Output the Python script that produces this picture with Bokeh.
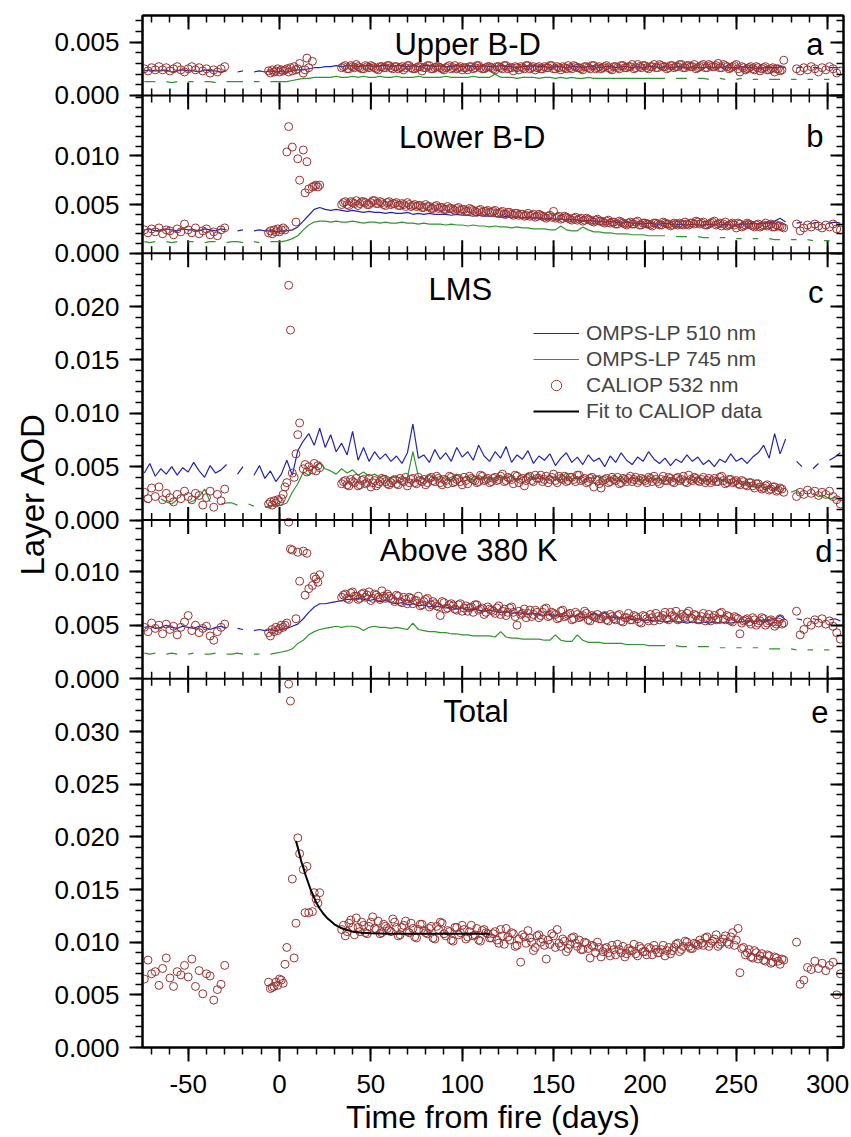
import numpy as np
from bokeh.plotting import figure
from bokeh.models import (Range1d, LinearAxis, FixedTicker, CustomJSTickFormatter,
                          Label, Legend, LegendItem, Span, Title)
from bokeh.embed import file_html
from bokeh.resources import INLINE

nan = float("nan")

# ---------------- data (layer AOD values in units of 1e-3) ----------------
omps_days = list(range(-74, 308, 3))
cal_days = (list(range(-74, -29, 2)) + list(range(-6, 3)) +
            [3, 4, 5, 6, 7, 8, 9, 10, 11, 13, 14, 15, 16, 18, 19, 20, 21, 22] +
            list(range(34, 277, 2)) + list(range(283, 308, 2)))
cal_days2 = list(range(35, 276, 2))

# ---- panel a : Upper B-D ----
a510 = [2.3, 2.4, 2.3, 2.3, 2.4, 2.2, 2.3, 2.4, 2.3, 2.3, 2.2, 2.4, 2.3, 2.3, 2.2, 2.3,
        nan, 2.2, 2.3, nan, 2.2, 2.3, 2.2, 2.3, 2.2,
        2.3, 2.2, 2.3, 2.4, 2.4, 2.5, 2.6, 2.6, 2.7,
        2.7, 2.8, 2.7, 2.8, 2.8, 2.7, 2.8, 2.8, 2.7, 2.8,
        2.8, 2.7, 2.8, 2.8, 2.7, 2.8, 2.7, 2.8, 2.8, 2.7,
        2.8, 2.7, 2.7, 2.8, 2.7, 2.8, 2.7, 2.7, 2.8, 2.7,
        2.7, 2.8, 2.7, 2.7, 2.6, 2.7, 2.7, 2.8, 2.7, 2.7,
        2.6, 2.7, 2.7, 2.6, 2.7, 2.7, 2.6, 2.7, 2.7, 2.6,
        2.7, 2.7, 2.6, 2.7, 2.7, 2.6, 2.7, 2.6, 2.7, 2.7,
        2.6, 2.7, 2.6, 2.7, 2.7, 2.6, 2.7, 2.6, 2.6, 2.7,
        2.6, 2.6, 2.7, 2.6, 2.6, 2.7, 2.6, 2.6, 2.5, 2.6,
        2.6, 2.6, 2.7, 2.6, nan, 2.6, 2.7, nan, 2.6, 2.6,
        nan, 2.6, 2.6, 2.6]
a745 = [1.3, 1.3, 1.3, nan, 1.3, 1.2, 1.3, nan, 1.3, 1.3, nan, 1.3, 1.3, 1.2, nan, 1.3,
        1.3, 1.3, 1.3, nan, 1.3, 1.3, nan, 1.3, 1.3,
        1.3, 1.3, 1.4, 1.5, 1.6, 1.6, 1.7, 1.7, 1.7,
        1.7, 1.8, 1.7, 1.7, 1.8, 1.7, 1.8, 1.7, 1.7, 1.8,
        1.7, 1.7, 1.8, 1.7, 1.7, 1.7, 1.8, 1.7, 1.7, 1.7,
        1.7, 1.8, 1.7, 1.7, 1.7, 1.7, 1.8, 1.7, 1.7, 1.7,
        2.0, 1.7, 1.7, 1.7, 1.6, 1.7, 1.7, 1.7, 1.6, 1.7,
        1.7, 1.6, 1.7, 1.6, 1.7, 1.6, 1.6, 1.7, 1.6, 1.6,
        1.6, 1.6, 1.6, 1.6, 1.6, 1.6, 1.6, 1.6, 1.6, 1.6,
        1.6, 1.6, nan, 1.6, 1.6, 1.6, nan, 1.6, 1.6, 1.5,
        nan, 1.6, 1.5, nan, 1.5, 1.6, nan, 1.5, 1.5, nan,
        1.5, 1.5, 1.5, nan, 1.5, 1.5, nan, 1.5, 1.5, nan,
        1.5, 1.5, nan, 1.5]
cal_a = [2.5, 2.3, 2.6, 2.4, 2.7, 2.4, 2.6, 2.3, 2.5, 2.7, 2.4, 2.2, 2.5, 2.7, 2.4, 2.6,
         2.3, 2.5, 2.1, 2.4, 2.2, 2.5, 2.7,
         2.3, 2.1, 2.4, 2.2, 2.3, 2.5, 2.2, 2.4, 2.3,
         2.4, 2.5, 2.2, 2.6, 2.3, 2.7, 2.4, 2.5, 3.0, 2.1, 2.4, 3.5, 2.6, 3.2, nan, nan, nan, nan,
         2.6, 2.8, 2.5, 2.7, 2.9, 2.6, 2.5, 2.7, 2.8, 2.6, 2.4, 2.7, 2.6, 2.8,
         2.5, 2.7, 2.6, 2.4, 2.8, 2.6, 2.5, 2.7, 2.3, 2.6, 2.8, 2.5, 2.7, 2.6, 2.4, 2.7,
         2.5, 2.8, 2.6, 2.4, 2.6, 2.7, 2.5, 2.8, 2.6, 2.5, 2.7,
         2.6, 2.4, 2.7, 2.5, 2.8, 2.6, 2.3, 2.6, 2.7, 2.5, 2.8, 2.6, 2.4, 2.7, 2.5,
         2.6, 2.8, 2.5, 2.7, 2.4, 2.6, 2.8, 2.5, 2.7, 2.6, 2.4, 2.7, 2.5, 2.8, 2.6,
         2.5, 2.7, 2.6, 2.4, 2.7, 2.5, 2.8, 2.6, 2.7, 2.5, 2.9, 2.6, 2.8, 2.5, 2.7,
         2.6, 2.9, 2.7, 2.5, 2.8, 2.6, 2.7, 2.9, 2.6, 2.8, 2.7, 2.5,
         2.7, 2.9, 2.6, 2.8, 2.7, 3.0, 2.6, 2.8, 2.5, 2.7, 2.9, 2.2, 2.6, 2.5, 2.7,
         2.4, 2.6, 2.5, 2.7, 2.4, 2.6, 2.5, 2.3, 3.3,
         2.5, 2.3, 2.6, 2.4, 2.7, 2.5, 2.2, 2.6, 2.4, 2.7, 2.5, 2.1, 2.3]
cal_a2 = [2.7, 2.5, 2.8, 2.6, 2.7, 2.5, 2.8, 2.6, 2.7, 2.5, 2.7, 2.6, 2.8,
          2.6, 2.7, 2.5, 2.7, 2.6, 2.8, 2.5, 2.6, 2.7, 2.6, 2.8, 2.5, 2.6, 2.7, 2.5, 2.6,
          2.8, 2.6, 2.5, 2.7, 2.6, 2.4, 2.7, 2.6, 2.8, 2.5, 2.6, 2.7,
          2.5, 2.7, 2.6, 2.8, 2.5, 2.6, 2.7, 2.4, 2.6, 2.8, 2.5, 2.7, 2.6, 2.5, 2.7,
          2.6, 2.8, 2.5, 2.6, 2.7, 2.5, 2.6, 2.8, 2.6, 2.5, 2.7, 2.6, 2.8, 2.5, 2.7,
          2.6, 2.8, 2.5, 2.7, 2.6, 2.8, 2.6, 2.7, 2.9, 2.6, 2.7, 2.8, 2.6, 2.7, 2.9,
          2.6, 2.8, 2.7, 2.6, 2.8, 2.7, 2.9, 2.6, 2.8, 2.7, 2.9, 2.6,
          2.8, 2.6, 2.9, 2.7, 2.8, 2.6, 2.9, 2.7, 2.6, 2.8, 2.5, 2.7, 2.4, 2.6, 2.5,
          2.7, 2.3, 2.6, 2.4, 2.5, 2.2, 2.5, 2.4]

# ---- panel b : Lower B-D ----
b510 = [2.4, 2.5, 2.3, 2.4, 2.5, 2.4, 2.3, 2.5, 2.4, 2.4, 2.3, 2.5, 2.4, 2.3, 2.5, 2.4,
        nan, 2.3, 2.4, nan, 2.3, 2.4, 2.3, 2.3, 2.2,
        2.3, 2.3, 2.4, 2.7, 3.3, 3.9, 4.5, 4.7, 4.5,
        4.4, 4.5, 4.4, 4.3, 4.4, 4.3, 4.2, 4.3, 4.2, 4.2,
        4.1, 4.2, 4.1, 4.1, 4.2, 4.0, 4.1, 4.0, 4.1, 4.0,
        4.0, 4.0, 3.9, 4.0, 3.9, 3.9, 3.8, 3.9, 3.8, 3.8,
        3.8, 3.7, 3.8, 3.7, 3.7, 3.6, 3.7, 3.6, 3.6, 3.5,
        3.6, 3.5, 3.5, 3.4, 3.5, 3.4, 3.3, 3.4, 3.3, 3.3,
        3.2, 3.3, 3.2, 3.1, 3.2, 3.1, 3.1, 3.0, 3.1, 3.0,
        3.0, 3.1, 3.0, 2.9, 3.0, 2.9, 3.0, 2.9, 2.9, 3.0,
        2.9, 2.9, 3.0, 2.9, 2.9, 3.0, 3.0, 3.1, 3.0, 3.1,
        3.1, 3.3, 3.6, 3.2, nan, 3.1, 3.2, nan, 3.1, 3.2,
        nan, 3.1, 3.2, 3.1]
b745 = [1.2, 1.1, 1.2, nan, 1.2, 1.1, 1.2, nan, 1.2, 1.2, nan, 1.1, 1.2, 1.2, nan, 1.1,
        1.2, 1.2, 1.1, nan, 1.2, 1.1, nan, 1.2, 1.2,
        1.2, 1.3, 1.5, 1.8, 2.4, 2.9, 3.2, 3.3, 3.3,
        3.2, 3.3, 3.2, 3.2, 3.3, 3.2, 3.1, 3.2, 3.2, 3.1,
        3.2, 3.1, 3.1, 3.2, 3.1, 3.1, 3.0, 3.1, 3.0, 3.0,
        3.0, 2.9, 3.0, 2.9, 2.9, 2.8, 2.9, 2.8, 2.8, 2.7,
        2.8, 2.7, 2.7, 2.6, 2.7, 2.6, 2.6, 2.5, 2.5, 2.5,
        2.4, 2.4, 2.8, 2.4, 2.3, 2.3, 2.7, 2.4, 2.2, 2.2,
        2.1, 2.1, 2.0, 2.0, 2.0, 1.9, 1.9, 1.9, 1.8, 1.8,
        1.8, 1.8, nan, 1.7, 1.7, 1.7, nan, 1.7, 1.6, 1.6,
        nan, 1.6, 1.6, nan, 1.5, 1.5, nan, 1.5, 1.5, nan,
        1.5, 1.4, 1.4, nan, 1.4, 1.4, nan, 1.4, 1.3, nan,
        1.3, 1.3, nan, 1.3]
cal_b = [2.4, 2.1, 2.5, 2.2, 2.6, 2.0, 2.4, 2.3, 1.9, 2.5, 2.2, 3.0, 2.4, 2.1, 2.6, 2.0,
         2.3, 2.5, 1.9, 2.2, 1.8, 2.4, 2.6,
         2.1, 2.3, 2.0, 2.4, 2.2, 2.5, 2.2, 2.4, 2.6,
         2.4, 10.4, 13.0, nan, 10.9, nan, 3.2, 9.7, 7.5, 10.6, 6.2, 9.4, 6.6, 6.8, 6.9, 7.0, 6.8, 7.0,
         5.0, 5.3, 4.9, 5.2, 5.4, 5.1, 5.3, 5.0, 5.2, 5.4, 5.1, 5.2, 4.9, 5.3,
         5.1, 5.2, 4.9, 5.0, 5.2, 4.8, 5.0, 4.9, 4.7, 5.0, 4.8, 4.6, 4.9, 4.7, 4.5, 4.8,
         4.6, 4.4, 4.7, 4.5, 4.3, 4.6, 4.4, 4.2, 4.5, 4.3, 4.4,
         4.2, 4.4, 4.1, 4.3, 4.0, 4.2, 3.9, 4.1, 4.0, 3.8, 4.1, 3.9, 3.7, 4.0, 3.8,
         3.6, 3.9, 4.3, 3.7, 3.5, 3.8, 3.6, 3.4, 3.7, 3.5, 3.3, 3.6, 3.4, 3.2, 3.5,
         3.3, 3.1, 3.4, 3.2, 3.0, 3.3, 3.1, 2.9, 3.2, 3.0, 3.3, 2.9, 3.1, 3.0, 2.8,
         3.1, 2.9, 3.2, 3.0, 2.8, 3.1, 2.9, 3.0, 3.2, 2.9, 3.1, 3.3,
         3.0, 3.2, 2.9, 3.1, 3.3, 3.0, 2.8, 3.2, 2.9, 3.1, 2.6, 3.0, 2.8, 3.1, 2.9,
         2.7, 3.0, 2.8, 3.1, 2.9, 2.7, 2.9, 2.8, 2.6,
         3.0, 2.3, 2.6, 2.9, 2.7, 3.0, 2.8, 2.6, 2.9, 2.7, 3.0, 2.5, 2.4]
cal_b2 = [5.2, 5.0, 5.3, 5.1, 4.9, 5.3, 5.2, 5.0, 5.4, 5.1, 5.3, 5.0, 5.2,
          5.0, 5.1, 4.9, 5.1, 4.8, 5.0, 4.9, 4.8, 4.9, 4.7, 4.8, 4.6, 4.8, 4.6, 4.7, 4.5,
          4.6, 4.5, 4.6, 4.4, 4.5, 4.3, 4.5, 4.3, 4.4, 4.2, 4.3, 4.2,
          4.3, 4.1, 4.2, 4.0, 4.2, 4.0, 4.1, 3.9, 4.0, 3.9, 3.8, 4.0, 3.8, 3.9, 3.7,
          3.8, 3.7, 3.6, 3.8, 3.6, 3.7, 3.5, 3.6, 3.4, 3.6, 3.4, 3.5, 3.3, 3.4, 3.3,
          3.2, 3.3, 3.1, 3.2, 3.0, 3.2, 3.0, 3.1, 3.0, 3.2, 2.9, 3.1, 3.0, 2.9, 3.1,
          3.0, 2.9, 3.1, 3.0, 2.9, 3.0, 3.1, 2.9, 3.0, 3.1, 3.0, 3.2,
          3.1, 2.9, 3.0, 3.2, 2.9, 3.1, 3.0, 2.8, 3.0, 2.9, 3.1, 2.7, 2.9, 3.0, 2.8,
          2.9, 2.7, 2.9, 2.8, 3.0, 2.7, 2.8, 2.7]

# ---- panel c : LMS ----
c510 = [4.4, 5.3, 4.1, 4.8, 4.3, 5.0, 4.2, 4.9, 4.5, 5.4, 4.6, 4.0, 5.1, 4.4, 4.7, 5.2,
        nan, 4.3, 5.0, nan, 4.2, 5.1, 3.9, 4.6, 3.6,
        4.3, 5.6, 4.2, 6.5, 7.4, 8.1, 7.0, 8.6, 6.8,
        8.0, 6.4, 7.2, 6.1, 8.3, 5.6, 6.8, 5.5, 6.4, 5.7,
        6.2, 5.5, 6.0, 5.3, 6.3, 9.0, 5.8, 6.1, 5.4, 6.6,
        5.7, 6.3, 5.5, 6.8, 5.9, 6.4, 5.6, 7.0, 6.0, 5.5,
        6.4, 5.8, 6.9, 5.4, 6.1, 5.7, 6.5, 5.3, 6.0, 5.6,
        6.2, 5.1, 5.8, 6.3, 5.4, 5.9, 5.2, 6.1, 5.5, 5.8,
        5.0, 6.0, 5.4, 6.3, 5.6, 5.2, 5.9, 5.5, 6.4, 5.7,
        5.3, 5.8, 5.1, 5.7, 5.4, 6.1, 5.5, 5.9, 5.2, 5.6,
        5.0, 5.7, 5.4, 6.2, 5.5, 5.8, 5.3, 5.9, 6.3, 7.0,
        5.8, 8.1, 6.2, 7.6, nan, 5.5, 5.0, nan, 4.8, 5.3,
        nan, 5.6, 5.9, 6.3]
c745 = [1.8, 1.6, nan, 2.0, 1.7, 1.5, 1.9, nan, 1.6, 1.8, 2.2, 2.9, 1.7, nan, 1.5, 1.6,
        1.6, 1.4, nan, 1.5, 1.3, nan, 1.2, 1.3, 1.4,
        1.4, 1.6, 2.6, 3.4, 4.5, 4.2, 5.0, 5.4, 4.8,
        4.6, 4.3, 4.8, 4.4, 4.7, 4.2, 4.5, 4.1, 4.3, 4.0,
        4.2, 3.9, 4.1, 3.8, 4.0, 6.4, 4.1, 3.8, 4.2, 3.9,
        4.1, 3.8, 4.0, 4.3, 3.9, 4.1, 3.7, 4.2, 3.9, 4.0,
        3.8, 4.2, 3.9, 4.1, 3.7, 4.0, 4.3, 3.8, 4.1, 3.9,
        4.2, 3.7, 4.0, 4.4, 3.8, 4.1, 3.6, 4.0, 3.9, 4.2,
        3.7, 4.0, 3.8, 4.1, 3.6, 4.0, 3.9, 3.7, 4.1, 3.8,
        3.9, 3.6, 4.0, 3.8, 3.5, 3.9, 3.7, 4.0, 3.6, 3.8,
        3.5, 3.9, 3.6, 3.4, 3.7, 3.3, 3.5, 3.1, 3.3, 3.0,
        3.2, 2.9, 3.1, nan, 2.6, 2.8, 2.4, nan, 2.5, 2.2,
        2.3, 2.0, 2.1, 1.9]
cal_c = [2.6, 2.0, 3.0, 2.2, 3.1, 1.9, 2.5, 2.1, 1.7, 2.4, 2.0, 2.7, 2.2, 1.9, 2.5, 2.3,
         1.4, 2.1, 2.7, 1.2, 2.4, 1.8, 2.9,
         1.5, 1.7, 1.4, 1.8, 1.6, 1.9, 1.7, 2.0, 2.4,
         3.1, 3.5, 22.0, 17.8, 4.4, 4.0, 6.2, 8.0, 9.1, 4.8, 5.2, 4.5, 5.0, 4.7, 5.3, 4.6, 5.1, 4.9,
         3.4, 3.7, 3.2, 3.6, 3.9, 3.3, 3.8, 3.5, 3.1, 3.7, 3.4, 3.9, 3.6, 3.3,
         3.7, 3.4, 3.9, 3.6, 3.2, 3.8, 3.5, 4.0, 3.6, 3.3, 3.9, 3.7, 4.1, 3.5, 3.8, 3.4,
         4.0, 3.6, 3.9, 3.3, 3.7, 4.1, 3.8, 3.5, 4.2, 3.7, 3.9,
         3.6, 4.0, 3.8, 4.3, 3.7, 3.9, 3.4, 4.1, 3.8, 3.2, 4.0, 3.7, 4.2, 3.9, 3.6,
         4.1, 3.8, 4.3, 3.5, 3.9, 4.1, 3.7, 4.0, 3.6, 4.2, 3.8, 3.5, 3.9, 3.1, 3.7,
         3.0, 3.8, 3.5, 4.0, 3.7, 3.4, 3.9, 3.6, 4.1, 3.8, 3.5, 3.9, 3.7, 4.0, 3.6,
         3.8, 3.4, 4.1, 3.7, 3.9, 3.5, 4.0, 3.8, 3.6, 4.2, 3.7, 3.9,
         3.6, 4.0, 3.7, 3.5, 3.9, 3.6, 4.1, 3.4, 3.8, 3.5, 3.7, 3.3, 3.6, 3.2, 3.5,
         3.0, 3.4, 2.9, 3.2, 2.8, 3.1, 2.7, 3.0, 2.6,
         2.2, 2.6, 2.4, 2.8, 2.5, 2.7, 2.3, 2.6, 2.4, 2.7, 2.2, 1.9, 1.5]
cal_c2 = [3.6, 3.3, 3.8, 3.5, 3.2, 3.7, 3.4, 3.9, 3.5, 3.2, 3.6, 3.8, 3.4,
          3.5, 3.8, 3.3, 3.7, 4.0, 3.5, 3.9, 3.4, 3.7, 3.8, 3.5, 4.0, 3.6, 3.9, 3.3, 3.7,
          4.1, 3.5, 3.8, 3.6, 4.0, 3.4, 3.9, 3.7, 3.6, 4.1, 3.8, 3.5,
          3.9, 3.7, 4.1, 3.6, 4.0, 3.8, 4.2, 3.5, 3.9, 3.7, 4.1, 3.6, 3.9, 4.2, 3.8,
          3.5, 4.0, 3.7, 4.1, 3.8, 3.6, 4.0, 3.8, 4.2, 3.7, 3.9, 3.6, 4.0, 3.8, 3.4,
          3.7, 3.9, 3.6, 3.8, 4.0, 3.5, 3.8, 3.9, 3.6, 4.0, 3.7, 3.8, 3.5, 3.9, 4.1,
          3.6, 3.8, 3.7, 4.0, 3.6, 3.9, 3.7, 4.1, 3.5, 3.8, 4.0, 3.7,
          3.8, 3.5, 3.9, 3.7, 3.6, 4.0, 3.7, 3.5, 3.8, 3.6, 3.4, 3.7, 3.3, 3.5, 3.2,
          3.4, 3.1, 3.0, 3.3, 2.9, 3.1, 2.8, 2.9]

# ---- panel d : Above 380 K ----
d510 = [4.8, 4.9, 4.7, 4.8, 5.0, 4.8, 4.7, 4.9, 4.8, 4.7, 4.9, 4.8, 4.6, 4.8, 4.9, 4.7,
        nan, 4.7, 4.6, nan, 4.5, 4.6, 4.5, 4.6, 4.5,
        4.6, 4.7, 4.9, 5.1, 5.6, 6.2, 6.7, 7.0, 7.0,
        7.1, 7.2, 7.3, 7.4, 7.4, 7.5, 7.4, 7.3, 7.4, 7.2,
        7.3, 7.1, 7.0, 7.1, 6.9, 7.0, 6.8, 6.9, 6.7, 6.8,
        6.7, 6.6, 6.7, 6.5, 6.6, 6.4, 6.5, 6.4, 6.3, 6.4,
        6.3, 6.2, 6.3, 6.1, 6.2, 6.1, 6.0, 6.1, 6.0, 5.9,
        6.0, 5.9, 5.8, 5.9, 5.8, 5.9, 5.7, 5.8, 6.1, 5.8,
        6.2, 5.8, 5.7, 5.6, 5.7, 5.5, 5.6, 5.4, 5.5, 5.4,
        5.4, 5.3, 5.4, 5.3, 5.3, 5.2, 5.3, 5.2, 5.3, 5.2,
        5.3, 5.2, 5.3, 5.2, 5.3, 5.3, 5.4, 5.3, 5.4, 5.5,
        5.4, 5.6, 5.9, 5.5, nan, 5.6, 5.5, nan, 5.6, 5.5,
        nan, 5.5, 5.6, 5.4]
d745 = [2.4, 2.3, 2.4, nan, 2.3, 2.4, 2.3, nan, 2.3, 2.4, nan, 2.3, 2.3, 2.4, nan, 2.3,
        2.3, 2.4, 2.3, nan, 2.3, 2.3, nan, 2.3, 2.4,
        2.5, 2.6, 2.8, 3.3, 3.6, 4.1, 4.4, 4.6, 4.7,
        4.8, 4.9, 4.8, 4.9, 4.9, 4.8, 4.5, 4.8, 4.9, 4.8,
        4.8, 4.7, 4.8, 4.7, 4.6, 5.2, 4.6, 4.5, 4.4, 4.4,
        4.3, 4.3, 4.2, 4.2, 4.1, 4.1, 4.0, 4.0, 4.0, 4.0,
        3.9, 4.4, 3.9, 3.8, 3.8, 3.7, 3.7, 3.7, 3.7, 3.6,
        3.6, 4.1, 3.6, 3.5, 3.5, 4.1, 3.6, 3.4, 3.4, 3.4,
        3.3, 3.3, 3.3, 3.3, 3.2, 3.2, 3.2, 3.2, 3.1, 3.1,
        3.1, 3.1, nan, 3.1, 3.0, 3.0, nan, 3.0, 3.0, 3.0,
        nan, 2.9, 2.9, nan, 2.9, 2.9, nan, 2.9, 2.9, nan,
        2.8, 2.8, 2.8, nan, 2.8, 2.7, nan, 2.7, 2.7, nan,
        2.7, 2.7, nan, 2.7]
cal_d = [4.8, 4.4, 5.2, 4.7, 5.0, 4.2, 5.1, 4.6, 4.9, 4.1, 4.8, 5.3, 5.9, 4.5, 5.0, 4.3,
         4.7, 4.9, 4.0, 3.6, 4.4, 4.8, 5.1,
         4.3, 4.0, 4.6, 4.4, 4.8, 4.5, 4.7, 5.0, 4.8,
         5.0, 5.2, 14.6, 12.1, 12.0, nan, 5.6, 11.8, 9.1, 11.9, 7.8, 11.7, 8.4, 8.7, 9.5, 9.3, 9.0, 9.7,
         7.6, 7.9, 7.4, 8.1, 7.7, 7.5, 8.0, 7.8, 7.3, 7.9, 7.6, 8.2, 7.5, 7.7,
         7.4, 7.8, 7.2, 7.6, 7.0, 7.5, 7.3, 7.7, 6.9, 7.4, 6.7, 7.2, 6.8, 5.9, 7.1, 6.6,
         7.0, 6.5, 6.9, 6.3, 6.8, 6.6, 6.2, 6.9, 6.5, 6.0, 6.7,
         6.4, 6.1, 6.8, 6.3, 5.9, 6.6, 6.2, 5.0, 6.0, 6.5, 6.1, 5.8, 6.4, 5.7, 6.2,
         6.6, 5.9, 6.1, 5.6, 6.3, 5.8, 6.0, 5.5, 6.2, 5.7, 5.9, 6.1, 5.4, 5.8, 6.0,
         5.6, 5.9, 5.4, 5.8, 5.5, 6.0, 5.3, 5.7, 5.5, 5.9, 5.6, 5.2, 5.8, 5.4, 5.7,
         6.1, 5.5, 5.9, 5.6, 6.2, 5.8, 5.5, 6.0, 5.7, 6.3, 5.6, 5.9,
         5.5, 6.1, 5.7, 5.4, 5.9, 5.6, 6.2, 5.5, 5.8, 5.3, 5.7, 4.2, 5.4, 5.6, 5.1,
         5.5, 5.2, 5.7, 5.0, 5.4, 5.3, 5.1, 5.6, 5.2,
         6.3, 4.1, 4.6, 5.3, 5.0, 5.5, 5.2, 5.6, 5.1, 5.4, 4.9, 4.3, 3.7]
cal_d2 = [7.8, 7.5, 8.0, 7.7, 7.4, 7.9, 7.6, 8.1, 7.5, 7.8, 7.4, 7.7, 7.9,
          7.5, 7.2, 7.7, 7.1, 7.4, 7.6, 7.0, 7.3, 6.8, 7.2, 7.5, 6.9, 7.0, 6.7, 7.2, 6.5,
          6.9, 6.8, 6.4, 7.0, 6.6, 6.3, 6.7, 6.9, 6.4, 6.6, 6.2, 6.5,
          6.3, 6.6, 6.0, 6.5, 6.2, 6.7, 5.8, 6.3, 6.1, 5.7, 6.4, 6.0, 6.2, 5.9, 6.5,
          5.8, 6.2, 6.0, 5.7, 6.4, 5.9, 6.1, 5.6, 6.0, 5.8, 6.3, 5.5, 5.9, 5.7, 5.6,
          5.8, 5.5, 6.0, 5.6, 5.9, 5.4, 5.7, 6.1, 5.5, 5.8, 5.3, 5.9, 5.6, 6.0, 5.4,
          5.8, 5.7, 6.2, 5.5, 5.9, 6.3, 5.6, 5.8, 6.1, 5.7, 6.0, 5.5,
          5.8, 5.4, 6.0, 5.7, 5.5, 6.1, 5.6, 5.9, 5.4, 5.8, 5.6, 5.2, 5.5, 5.3, 5.7,
          5.0, 5.4, 5.6, 5.2, 5.5, 4.9, 5.3, 5.1]

# ---- panel e : Total ----
cal_e = [6.5, 8.3, 7.0, 7.2, 5.9, 7.5, 8.5, 6.6, 5.8, 7.2, 6.9, 7.8, 6.7, 8.4, 5.8, 7.3,
         5.1, 7.0, 6.8, 4.5, 5.5, 6.0, 7.8,
         6.2, 5.6, 5.7, 5.8, 6.2, 5.9, 6.5, 6.4, 6.1,
         7.9, 9.5, 34.5, 32.9, 16.0, 8.5, 11.8, 19.9, 18.4, 16.9, 12.8, 17.2, 12.8, 12.9, 14.7, 14.1, 13.7, 14.7,
         11.2, 10.6, 11.8, 11.4, 12.3, 11.0, 11.6, 10.8, 11.9, 11.3, 12.0, 10.9, 11.5, 11.1,
         12.2, 11.4, 10.7, 11.6, 11.0, 11.8, 10.5, 11.2, 11.7, 10.9, 11.3, 10.4, 11.5, 11.9, 10.8, 11.1,
         10.2, 11.4, 10.7, 11.6, 10.3, 11.0, 10.6, 11.3, 10.1, 11.2, 10.8,
         10.4, 11.0, 9.9, 10.6, 11.3, 10.2, 10.8, 9.7, 8.1, 10.5, 11.1, 10.0, 9.5, 10.7, 10.3,
         8.4, 9.8, 10.6, 11.2, 9.6, 10.1, 9.4, 10.4, 9.9, 10.2, 9.3, 9.9, 8.5, 9.6, 10.0,
         8.6, 9.4, 9.0, 9.7, 8.8, 9.3, 9.6, 8.9, 9.2, 9.8, 8.7, 9.4, 9.1, 9.5, 8.8,
         9.3, 9.0, 9.7, 9.2, 8.9, 9.5, 9.9, 9.3, 10.1, 9.6, 9.4, 9.8,
         10.2, 9.7, 10.5, 9.9, 10.3, 9.6, 10.0, 10.6, 9.8, 10.9, 10.2, 7.1, 9.5, 9.0, 8.6,
         9.2, 8.4, 8.9, 8.2, 8.7, 8.1, 8.5, 7.9, 8.3,
         10.0, 6.0, 6.4, 7.6, 7.4, 8.2, 7.5, 8.0, 7.3, 7.8, 8.1, 5.0, 7.0]
cal_e2 = [11.6, 11.0, 12.1, 10.7, 11.4, 11.9, 10.9, 11.5, 12.4, 11.2, 10.8, 11.7, 11.3,
          11.0, 11.9, 10.6, 11.4, 12.0, 10.9, 11.3, 10.4, 11.7, 11.1, 10.8, 11.5, 10.3, 11.2,
          11.8, 10.6, 11.0, 10.1, 11.4, 10.9, 11.2, 10.5, 11.6, 10.7, 10.2, 11.1, 10.9, 10.4,
          10.8, 10.2, 11.2, 9.8, 10.5, 10.9, 9.6, 10.3, 10.7, 9.9, 10.4, 9.2, 10.6, 10.0, 9.7,
          10.2, 10.8, 9.5, 9.9, 10.3, 9.1, 9.8, 10.5, 9.6, 9.3, 10.0, 9.4, 9.7, 9.0, 9.5,
          9.1, 9.5, 8.7, 9.3, 9.8, 9.0, 8.6, 9.4, 9.2, 8.9, 9.6, 9.1, 8.8, 9.4, 9.7,
          9.0, 9.3, 8.7, 9.5, 9.2, 9.8, 9.1, 9.6, 10.0, 9.4, 9.9, 9.7,
          9.9, 10.4, 9.6, 10.1, 10.7, 9.8, 10.3, 10.0, 10.5, 9.7, 11.3, 9.4, 8.8, 9.3, 8.5,
          9.0, 8.7, 8.3, 8.8, 8.0, 8.6, 8.2, 8.4]
fit_days = [9, 10, 11, 12, 13, 14, 15, 16, 17, 18, 20, 22, 24, 26, 28, 30, 33, 36, 40,
            45, 50, 60, 70, 80, 90, 100, 115]
fit_e = [19.6, 19.0, 18.3, 17.6, 17.1, 16.5, 16.0, 15.5, 15.0, 14.6, 13.8, 13.2, 12.7,
         12.3, 12.0, 11.7, 11.4, 11.2, 11.0, 10.9, 10.85, 10.8, 10.8, 10.8, 10.8, 10.8, 10.8]

for arr in (a510, a745, b510, b745, c510, c745, d510, d745):
    assert len(arr) == len(omps_days), len(arr)
for arr in (cal_a, cal_b, cal_c, cal_d, cal_e):
    assert len(arr) == len(cal_days), len(arr)
for arr in (cal_a2, cal_b2, cal_c2, cal_d2, cal_e2):
    assert len(arr) == len(cal_days2), len(arr)
assert len(fit_days) == len(fit_e)

panels = ["a", "b", "c", "d", "e"]
panel_titles = ["Upper B-D", "Lower B-D", "LMS", "Above 380 K", "Total"]
panel_ymax = [0.0075, 0.0162, 0.025, 0.0148, 0.035]
panel_yticks = [[0, 0.005], [0, 0.005, 0.010], [0, 0.005, 0.010, 0.015, 0.020],
                [0, 0.005, 0.010], [0, 0.005, 0.010, 0.015, 0.020, 0.025, 0.030]]
x_major = [-50, 0, 50, 100, 150, 200, 250, 300]
x_minor = list(range(-70, 309, 10))

omps510 = {"a": a510, "b": b510, "c": c510, "d": d510}
omps745 = {"a": a745, "b": b745, "c": c745, "d": d745}
caliop = {"a": cal_a, "b": cal_b, "c": cal_c, "d": cal_d, "e": cal_e}
caliop2 = {"a": cal_a2, "b": cal_b2, "c": cal_c2, "d": cal_d2, "e": cal_e2}

# ---------------- layout / style ----------------
panel_px = [80, 158, 267, 159, 369]          # frame heights (px), top to bottom
FRAME_H = sum(panel_px)
title_x = [103, 105.5, 99, 103.5, 107.5]     # days
title_off = [29, 42, 36, 31, 33]              # text centre below panel top (px)
letter_x = [297.8, 297.8, 297.8, 302.7, 300.5]
letter_off = [29, 41, 39, 32, 33]

FONT = "Liberation Sans"
BLUE = "#2424b4"
GREEN = "#2f962f"
RED = "#993333"
K = 1e-3

p = figure(width=851, height=1137, output_backend="svg", toolbar_location=None,
           x_range=Range1d(-75, 308.7), y_range=Range1d(0, FRAME_H),
           x_axis_location=None, y_axis_location=None,
           min_border_left=142, min_border_right=8, min_border_top=15, min_border_bottom=89)
p.xgrid.visible = False
p.ygrid.visible = False
p.outline_line_color = "black"
p.outline_line_width = 2
p.background_fill_color = "white"
p.border_fill_color = "white"

bottoms, scale = {}, {}
acc = FRAME_H
for name, h, ymax in zip(panels, panel_px, panel_ymax):
    acc -= h
    bottoms[name] = acc
    scale[name] = h / ymax
    p.extra_y_ranges[name] = Range1d(-acc / scale[name], (FRAME_H - acc) / scale[name])

blank = CustomJSTickFormatter(code="return '';")
xticker = FixedTicker(ticks=x_major, minor_ticks=x_minor)


def style_axis(ax):
    ax.axis_line_width = 2
    ax.axis_line_color = "black"
    ax.major_tick_line_width = 2
    ax.minor_tick_line_width = 1.5
    ax.major_tick_line_color = "black"
    ax.minor_tick_line_color = "black"


# bottom axis with labels and title
xb = LinearAxis(ticker=xticker, axis_label="Time from fire (days)",
                formatter=CustomJSTickFormatter(code="return tick.toFixed(0);"),
                major_tick_in=0, major_tick_out=14, minor_tick_in=0, minor_tick_out=7,
                major_label_standoff=13, axis_label_standoff=3)
style_axis(xb)
xb.major_label_text_font = FONT
xb.major_label_text_font_size = "26px"
xb.major_label_text_color = "black"
xb.axis_label_text_font = FONT
xb.axis_label_text_font_size = "32px"
xb.axis_label_text_font_style = "normal"
xb.axis_label_text_color = "black"
p.add_layout(xb, "below")

# top axis
xt = LinearAxis(ticker=xticker, formatter=blank, major_tick_in=14, major_tick_out=0,
                minor_tick_in=7, minor_tick_out=0, major_label_standoff=0,
                major_label_text_font_size="0px")
style_axis(xt)
p.add_layout(xt, "above")

# left / right axes carrying each panel's AOD scale
ypos, ylab, yminor = [], [], []
for name, ymax, ticks in zip(panels, panel_ymax, panel_yticks):
    for v in ticks:
        ypos.append(round(bottoms[name] + v * scale[name], 4))
        ylab.append(f"{v:.3f}")
    for j in range(int(ymax / 0.001 + 1e-9) + 1):
        yminor.append(round(bottoms[name] + 0.001 * j * scale[name], 4))
yticker = FixedTicker(ticks=ypos, minor_ticks=yminor)
yfmt = CustomJSTickFormatter(args=dict(pos=ypos, lab=ylab), code="""
for (let i = 0; i < pos.length; i++) { if (Math.abs(pos[i] - tick) < 1e-3) return lab[i]; }
return '';""")
yl = LinearAxis(ticker=yticker, formatter=yfmt, major_tick_in=0, major_tick_out=13,
                minor_tick_in=0, minor_tick_out=7, major_label_standoff=10)
style_axis(yl)
yl.major_label_text_font = FONT
yl.major_label_text_font_size = "26px"
yl.major_label_text_color = "black"
p.add_layout(yl, "left")

# y title, placed where the reference has it (starts 472 px above the frame bottom)
p.add_layout(Title(text="Layer AOD", align="left", offset=472, vertical_align="middle",
                   standoff=0, text_font=FONT, text_font_size="33px",
                   text_font_style="normal", text_color="black"), "left")

yr = LinearAxis(ticker=yticker, formatter=blank, major_tick_in=13, major_tick_out=0,
                minor_tick_in=7, minor_tick_out=0, major_label_standoff=0,
                major_label_text_font_size="0px")
style_axis(yr)
p.add_layout(yr, "right")

# panel boundaries: rule plus crossing ticks at the shared x ticks
for name in panels[:-1]:
    yb = bottoms[name]
    p.add_layout(Span(location=yb, dimension="width", line_color="black", line_width=2))
    p.segment(x0=x_minor, y0=[yb - 7] * len(x_minor), x1=x_minor, y1=[yb + 7] * len(x_minor),
              line_color="black", line_width=1.5)
    p.segment(x0=x_major, y0=[yb - 14] * len(x_major), x1=x_major, y1=[yb + 13] * len(x_major),
              line_color="black", line_width=2)

# ---------------- data glyphs ----------------
rend = {}
for name in panels:
    if name in omps510:
        rend[name + "510"] = p.line(omps_days, np.array(omps510[name]) * K, y_range_name=name,
                                    line_color=BLUE, line_width=1.2)
        rend[name + "745"] = p.line(omps_days, np.array(omps745[name]) * K, y_range_name=name,
                                    line_color=GREEN, line_width=1.2)
    rend[name + "cal"] = p.scatter(cal_days, np.array(caliop[name]) * K, y_range_name=name,
                                   marker="circle", size=8, fill_color=None,
                                   line_color=RED, line_width=1)
    p.scatter(cal_days2, np.array(caliop2[name]) * K, y_range_name=name,
              marker="circle", size=8, fill_color=None, line_color=RED, line_width=1)
rend["fit"] = p.line(fit_days, np.array(fit_e) * K, y_range_name="e",
                     line_color="black", line_width=2)

# ---------------- text ----------------
for i, name in enumerate(panels):
    top = bottoms[name] + panel_px[i]
    p.add_layout(Label(x=title_x[i], y=top - title_off[i], text=panel_titles[i],
                       text_font=FONT, text_font_size="31px", text_align="center",
                       text_baseline="middle", text_color="black"))
    p.add_layout(Label(x=letter_x[i], y=top - letter_off[i], text=name,
                       text_font=FONT, text_font_size="31px", text_align="right",
                       text_baseline="middle", text_color="black"))

legend = Legend(items=[
    LegendItem(label="OMPS-LP 510 nm", renderers=[rend["c510"]]),
    LegendItem(label="OMPS-LP 745 nm", renderers=[rend["c745"]]),
    LegendItem(label="CALIOP 532 nm", renderers=[rend["ccal"]]),
    LegendItem(label="Fit to CALIOP data", renderers=[rend["fit"]]),
], location=(391, 623), glyph_width=46, glyph_height=26, label_height=26,
   label_standoff=7, spacing=0, padding=0, margin=0, border_line_color=None,
   background_fill_alpha=0, label_text_font=FONT, label_text_font_size="21px")
p.add_layout(legend)

open("out.html", "w").write(file_html(p, INLINE))
